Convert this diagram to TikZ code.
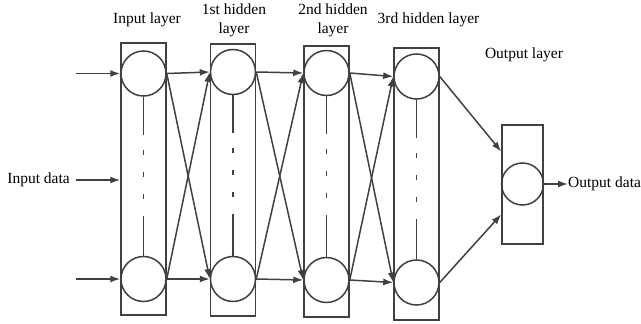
\documentclass[tikz,border=0pt]{standalone}
\usepackage{fontspec}
\setmainfont{Liberation Serif}
\usetikzlibrary{arrows.meta,calc}
\definecolor{ln}{HTML}{404040}
\tikzset{
  lbl/.style={font=\fontsize{15.5}{19}\selectfont, text=black, inner sep=0pt, align=center},
  neuron/.style={circle, draw=ln, line width=1.5pt, minimum size=45pt, inner sep=0pt},
  layerbox/.style={rectangle, draw=ln, line width=1.5pt, inner sep=0pt},
  conn/.style={draw=ln, line width=1.5pt, -{Latex[length=10pt,width=7pt]}},
  dotline/.style={draw=ln, line width=1.5pt, dash pattern=on 38pt off 15pt on 5pt off 17pt on 5pt off 17pt on 5pt off 17pt on 80pt}
}
\begin{document}
\begin{tikzpicture}[x=1pt,y=-1pt]
\useasboundingbox (0,0) rectangle (641,324);
% layer boxes
\node[layerbox, minimum width=45pt, minimum height=272pt] (b0) at (143.5,179) {};
\node[layerbox, minimum width=45pt, minimum height=272pt] (b1) at (233,180) {};
\node[layerbox, minimum width=45pt, minimum height=271pt] (b2) at (326.5,181.5) {};
\node[layerbox, minimum width=45pt, minimum height=272pt] (b3) at (416.5,184) {};
\node[layerbox, minimum width=41pt, minimum height=119pt] (bo) at (522.5,184.5) {};
% neurons
\node[neuron] (t0) at (143.5,73.5) {};
\node[neuron] (d0) at (143.5,279) {};
\node[neuron] (t1) at (233,72) {};
\node[neuron] (d1) at (233,279) {};
\node[neuron] (t2) at (326.5,73) {};
\node[neuron] (d2) at (326.5,280) {};
\node[neuron] (t3) at (416.5,76.5) {};
\node[neuron] (d3) at (416.5,282.5) {};
\node[neuron, minimum size=42pt] (o) at (522.5,184) {};
% vertical dash-dot lines
\foreach \i in {0,1,2,3} {
  \draw[dotline] (t\i.south) -- (d\i.north);
}
% labels
\node[lbl] (l0) at (147,20) {Input layer};
\node[lbl] (l1) at (234,20) {1st hidden\\layer};
\node[lbl] (l2) at (333,20) {2nd hidden\\layer};
\node[lbl] (l3) at (428.5,20) {3rd hidden layer};
\node[lbl] (lo) at (524,55) {Output layer};
\node[lbl, anchor=east] (ind) at (70,180) {Input data};
\node[lbl, anchor=west] (outd) at (568,184) {Output data};
% inputs
\coordinate (it) at (76,73.5);
\coordinate (ib) at (76,279);
\coordinate (im) at (76,180);
\draw[conn] (it) -- (t0.west);
\draw[conn] (ib) -- (d0.west);
\draw[conn] (im) -- (b0.west |- im);
% inter-layer connections
\foreach \a/\b in {0/1,1/2,2/3} {
  \draw[conn] (t\a.east) -- (t\b.west);
  \draw[conn] (t\a.east) -- (d\b.west);
  \draw[conn] (d\a.east) -- (t\b.west);
  \draw[conn] (d\a.east) -- (d\b.west);
}
% to output
\coordinate (oin1) at ($(bo.north west)!0.227!(bo.south west)$);
\coordinate (oin2) at ($(bo.north west)!0.748!(bo.south west)$);
\draw[conn] (t3.east) -- (oin1);
\draw[conn] (d3.east) -- (oin2);
\draw[conn] (o.east) -- (outd.west);
\end{tikzpicture}
\end{document}
